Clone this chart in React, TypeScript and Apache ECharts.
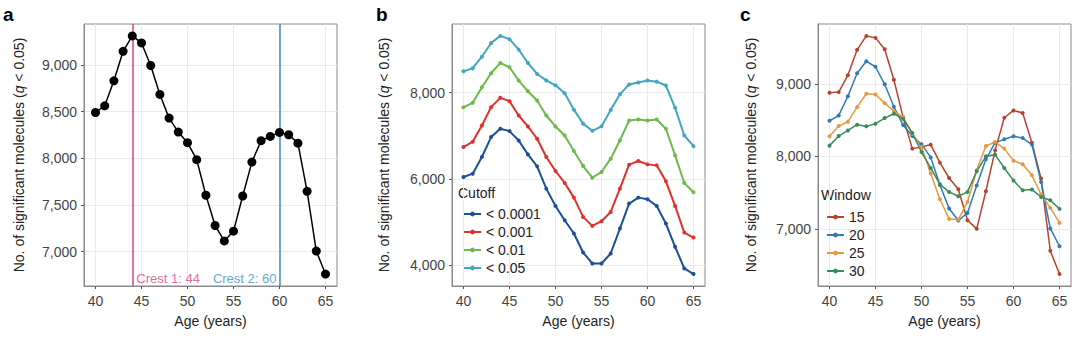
import React, { useEffect, useRef } from "react";
import * as echarts from "echarts";

const ages = [40, 41, 42, 43, 44, 45, 46, 47, 48, 49, 50, 51, 52, 53, 54, 55, 56, 57, 58, 59, 60, 61, 62, 63, 64, 65];

// Panel a (q < 0.05, window 20)
const signifA = [8490, 8562, 8829, 9145, 9310, 9235, 8993, 8683, 8430, 8280, 8167, 7985, 7604, 7280, 7115, 7219, 7596, 7959, 8188, 8234, 8277, 8252, 8162, 7646, 7006, 6760];
const crestAges = [44, 60];
const crestLabels = ["Crest 1: 44", "Crest 2: 60"];

// Panel b (cutoffs)
const cutoffNames = ["< 0.0001", "< 0.001", "< 0.01", "< 0.05"];
const cut0001 = [6046, 6123, 6508, 6969, 7162, 7108, 6892, 6569, 6292, 5777, 5377, 5046, 4738, 4300, 4046, 4046, 4277, 4854, 5431, 5569, 5531, 5377, 4969, 4431, 3931, 3800];
const cut001 = [6738, 6862, 7238, 7662, 7877, 7800, 7469, 7215, 6931, 6508, 6185, 5908, 5569, 5123, 4915, 5023, 5238, 5777, 6331, 6415, 6338, 6315, 5946, 5377, 4762, 4646];
const cut01 = [7662, 7762, 8123, 8446, 8685, 8585, 8277, 8030, 7815, 7469, 7215, 7008, 6646, 6300, 6031, 6162, 6470, 6892, 7354, 7377, 7354, 7377, 7162, 6546, 5907, 5692];
const cut05 = signifA;

// Panel c (windows)
const windowNames = ["15", "20", "25", "30"];
const win15 = [8876, 8885, 9119, 9468, 9660, 9633, 9477, 9055, 8536, 8106, 8128, 8161, 7913, 7701, 7546, 7119, 7000, 7518, 8082, 8532, 8633, 8596, 8188, 7693, 6697, 6376];
const win20 = signifA;
const win25 = [8275, 8417, 8477, 8678, 8862, 8853, 8733, 8623, 8541, 8312, 8128, 7762, 7408, 7137, 7128, 7371, 7807, 8142, 8197, 8106, 7940, 7890, 7738, 7473, 7289, 7082];
const win30 = [8147, 8279, 8357, 8436, 8413, 8450, 8527, 8587, 8518, 8321, 8059, 7839, 7614, 7509, 7449, 7509, 7793, 8000, 8023, 7839, 7665, 7532, 7541, 7440, 7394, 7275];

const xTicks = [40, 45, 50, 55, 60, 65];
const yTicksA = [7000, 7500, 8000, 8500, 9000];
const yTicksB = [4000, 6000, 8000];
const yTicksC = [7000, 8000, 9000];

const FONT = "'Liberation Sans', Arial, sans-serif";
const cutoffColors = ["#1c4f96", "#e0302a", "#6cba4c", "#42a6c2"];
const windowColors = ["#b8422f", "#2c7cb8", "#e5993d", "#3a8b5b"];

function expand(vals: number[][]) {
  const all = vals.flat();
  const mn = Math.min(...all);
  const mx = Math.max(...all);
  const pad = (mx - mn) * 0.05;
  return [mn - pad, mx + pad];
}

export default function App() {
  const ref = useRef<HTMLDivElement>(null);
  useEffect(() => {
    document.body.style.margin = "0";
    if (!ref.current) return;
    const chart = echarts.init(ref.current, undefined, { renderer: "svg" });
    const xr = expand([ages]);
    const ra = expand([signifA]);
    const rb = expand([cut0001, cut001, cut01, cut05]);
    const rc = expand([win15, win20, win25, win30]);
    const grids = [
      { left: 84, top: 24, width: 253, height: 262 },
      { left: 452, top: 24, width: 253, height: 262 },
      { left: 818, top: 24, width: 253, height: 262 },
    ].map((g) => ({ ...g, show: true, borderColor: "#8a8a8a", borderWidth: 1, backgroundColor: "transparent" }));

    const xAxisBase = (i: number) => ({
      type: "value",
      gridIndex: i,
      min: xr[0],
      max: xr[1],
      name: "Age (years)",
      nameLocation: "middle",
      nameGap: 28,
      nameTextStyle: { fontFamily: FONT, fontSize: 14, color: "#222" },
      axisLine: { show: true, lineStyle: { color: "#8a8a8a" } },
      axisTick: { show: true, length: 3, customValues: xTicks, lineStyle: { color: "#555" } },
      axisLabel: { customValues: xTicks, margin: 8, fontFamily: FONT, fontSize: 14, color: "#444" },
      splitLine: { show: true, lineStyle: { color: "#ebebeb", width: 1 } },
    });
    const yAxisBase = (i: number, r: number[], ticks: number[], gap: number) => ({
      type: "value",
      gridIndex: i,
      min: r[0],
      max: r[1],
      name: "No. of significant molecules ({i|q} < 0.05)",
      nameLocation: "middle",
      nameGap: gap,
      nameTextStyle: {
        fontFamily: FONT,
        fontSize: 14,
        color: "#222",
        rich: { i: { fontStyle: "italic", fontFamily: FONT, fontSize: 14, color: "#222" } },
      },
      axisLine: { show: true, lineStyle: { color: "#8a8a8a" } },
      axisTick: { show: true, length: 3, customValues: ticks, lineStyle: { color: "#555" } },
      axisLabel: {
        customValues: ticks,
        margin: 7,
        fontFamily: FONT,
        fontSize: 14,
        color: "#444",
        formatter: (v: number) => v.toLocaleString("en-US"),
      },
      splitLine: { show: true, lineStyle: { color: "#ebebeb", width: 1 } },
    });

    const pair = (ys: number[]) => ages.map((a, i) => [a, ys[i]]);
    const cutoffData = [cut0001, cut001, cut01, cut05];
    const windowData = [win15, win20, win25, win30];

    const series: any[] = [
      {
        name: "signif",
        type: "line",
        xAxisIndex: 0,
        yAxisIndex: 0,
        data: pair(signifA),
        symbol: "circle",
        symbolSize: 9,
        itemStyle: { color: "#000" },
        lineStyle: { color: "#000", width: 1.5 },
        z: 5,
        markLine: {
          silent: true,
          symbol: "none",
          label: { show: false },
          data: [
            { xAxis: crestAges[0], lineStyle: { color: "#d8438c", width: 1.5, type: "solid" } },
            { xAxis: crestAges[1], lineStyle: { color: "#3b8fc6", width: 1.5, type: "solid" } },
          ],
        },
      },
      {
        name: "crest1",
        type: "scatter",
        xAxisIndex: 0,
        yAxisIndex: 0,
        symbolSize: 0,
        data: [[crestAges[0], ra[0]]],
        label: {
          show: true,
          position: "right",
          distance: 4,
          offset: [0, -8],
          formatter: crestLabels[0],
          fontFamily: FONT,
          fontSize: 13,
          color: "#d8438c",
        },
      },
      {
        name: "crest2",
        type: "scatter",
        xAxisIndex: 0,
        yAxisIndex: 0,
        symbolSize: 0,
        data: [[crestAges[1], ra[0]]],
        label: {
          show: true,
          position: "left",
          distance: 3,
          offset: [0, -8],
          formatter: crestLabels[1],
          fontFamily: FONT,
          fontSize: 13,
          color: "#3b8fc6",
        },
      },
    ];
    cutoffNames.forEach((n, k) => {
      series.push({
        name: n,
        type: "line",
        xAxisIndex: 1,
        yAxisIndex: 1,
        data: pair(cutoffData[k]),
        symbol: "circle",
        symbolSize: 4,
        itemStyle: { color: cutoffColors[k] },
        lineStyle: { color: cutoffColors[k], width: 2 },
      });
    });
    windowNames.forEach((n, k) => {
      series.push({
        name: n,
        type: "line",
        xAxisIndex: 2,
        yAxisIndex: 2,
        data: pair(windowData[k]),
        symbol: "circle",
        symbolSize: 4,
        itemStyle: { color: windowColors[k] },
        lineStyle: { color: windowColors[k], width: 1.5 },
      });
    });

    const legendBase = {
      orient: "vertical",
      itemWidth: 17,
      itemHeight: 6,
      itemGap: 4,
      textStyle: { fontFamily: FONT, fontSize: 14, color: "#222" },
      selectedMode: false,
    };

    chart.setOption({
      animation: false,
      grid: grids,
      xAxis: [0, 1, 2].map(xAxisBase),
      yAxis: [
        yAxisBase(0, ra, yTicksA, 58),
        yAxisBase(1, rb, yTicksB, 61),
        yAxisBase(2, rc, yTicksC, 60),
      ],
      legend: [
        { ...legendBase, data: cutoffNames, left: 458, top: 202 },
        { ...legendBase, data: windowNames, left: 821, top: 205 },
      ],
      series,
      graphic: [
        { type: "text", left: 3, top: 5, style: { text: "a", font: `bold 19px ${FONT}`, fill: "#000" } },
        { type: "text", left: 376, top: 5, style: { text: "b", font: `bold 19px ${FONT}`, fill: "#000" } },
        { type: "text", left: 740, top: 5, style: { text: "c", font: `bold 19px ${FONT}`, fill: "#000" } },
        { type: "text", left: 458, top: 186, style: { text: "Cutoff", font: `14px ${FONT}`, fill: "#222" } },
        { type: "text", left: 821, top: 188, style: { text: "Window", font: `14px ${FONT}`, fill: "#222" } },
      ],
    });
    return () => chart.dispose();
  }, []);
  return <div ref={ref} style={{ width: 1080, height: 338 }} />;
}
